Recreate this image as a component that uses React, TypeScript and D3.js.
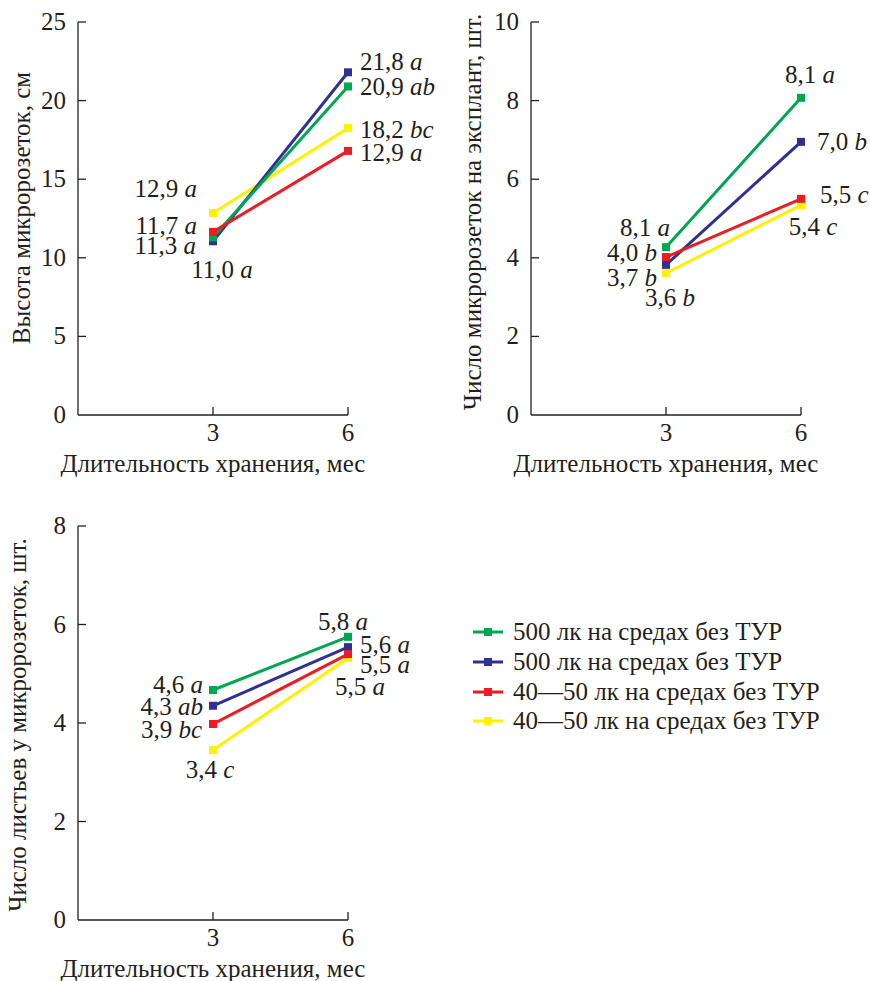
import React from "react";
import { scaleLinear, line as d3line } from "d3";

// ---------- DATA ----------
const months = [3, 6];
const seriesNames = [
  "500 лк на средах без ТУР",
  "500 лк на средах без ТУР",
  "40—50 лк на средах без ТУР",
  "40—50 лк на средах без ТУР",
];
const seriesColors = ["#00a651", "#2e3192", "#ed1c24", "#fff200"];

// Chart 1: height of micro-rosettes, cm  (green, blue, red, yellow)
const heightValues = [
  [11.3, 20.9],
  [11.05, 21.8],
  [11.65, 16.8],
  [12.85, 18.25],
];
const heightLabels = [
  ["11,3 a", "20,9 ab"],
  ["11,0 a", "21,8 a"],
  ["11,7 a", "12,9 a"],
  ["12,9 a", "18,2 bc"],
];
const heightTicks = [0, 5, 10, 15, 20, 25];

// Chart 2: number of micro-rosettes per explant
const countValues = [
  [4.27, 8.07],
  [3.82, 6.95],
  [4.02, 5.5],
  [3.61, 5.34],
];
const countLabels = [
  ["8,1 a", "8,1 a"],
  ["3,7 b", "7,0 b"],
  ["4,0 b", "5,5 c"],
  ["3,6 b", "5,4 c"],
];
const countTicks = [0, 2, 4, 6, 8, 10];

// Chart 3: number of leaves per micro-rosette
const leafValues = [
  [4.67, 5.75],
  [4.35, 5.54],
  [3.98, 5.4],
  [3.45, 5.32],
];
const leafLabels = [
  ["4,6 a", "5,8 a"],
  ["4,3 ab", "5,6 a"],
  ["3,9 bc", "5,5 a"],
  ["3,4 c", "5,5 a"],
];
const leafTicks = [0, 2, 4, 6, 8];

const xTickLabels = ["3", "6"];
const xTitle = "Длительность хранения, мес";

// ---------- LAYOUT ----------
type Off = { dx: number; dy: number; anchor: "start" | "middle" | "end" };
const heightOffsets: Off[][] = [
  [{ dx: -17, dy: 9, anchor: "end" }, { dx: 12, dy: 1, anchor: "start" }],
  [{ dx: 9, dy: 29, anchor: "middle" }, { dx: 12, dy: -10, anchor: "start" }],
  [{ dx: -16, dy: -6, anchor: "end" }, { dx: 12, dy: 2, anchor: "start" }],
  [{ dx: -16, dy: -24, anchor: "end" }, { dx: 12, dy: 2, anchor: "start" }],
];
const countOffsets: Off[][] = [
  [{ dx: 4, dy: -19, anchor: "end" }, { dx: 9, dy: -23, anchor: "middle" }],
  [{ dx: -9, dy: 13, anchor: "end" }, { dx: 16, dy: 0, anchor: "start" }],
  [{ dx: -9, dy: -4, anchor: "end" }, { dx: 19, dy: -4, anchor: "start" }],
  [{ dx: 4, dy: 25, anchor: "middle" }, { dx: 12, dy: 22, anchor: "middle" }],
];
const leafOffsets: Off[][] = [
  [{ dx: -10, dy: -5, anchor: "end" }, { dx: -5, dy: -15, anchor: "middle" }],
  [{ dx: -10, dy: 1, anchor: "end" }, { dx: 12, dy: -2, anchor: "start" }],
  [{ dx: -11, dy: 6, anchor: "end" }, { dx: 12, dy: 11, anchor: "start" }],
  [{ dx: -3, dy: 20, anchor: "middle" }, { dx: -13, dy: 29, anchor: "start" }],
];

const FONT = '"Liberation Serif", serif';
const FS = 25;
const drawOrder = [3, 1, 0, 2];
const textStyle = { fontFamily: FONT, fontSize: FS };

type PanelProps = {
  x0: number;
  x1: number;
  yTop: number;
  yBottom: number;
  yMax: number;
  ticks: number[];
  values: number[][];
  labels: string[][];
  offsets: Off[][];
  yTitle: string;
  yTitleX: number;
  yTitleY: number;
};

function T(props: any) {
  const { children, ...rest } = props;
  return (
    <text fontFamily="Liberation Serif" fontSize={FS} style={textStyle} fill="#231f20" {...rest}>
      {children}
    </text>
  );
}

function LabelText({ x, y, text, anchor }: { x: number; y: number; text: string; anchor: string }) {
  const i = text.lastIndexOf(" ");
  const num = text.slice(0, i);
  const letter = text.slice(i + 1);
  return (
    <T x={x} y={y + 8} textAnchor={anchor}>
      {num + " "}
      <tspan fontStyle="italic">{letter}</tspan>
    </T>
  );
}

function Panel(p: PanelProps) {
  const x = scaleLinear().domain([0, 6]).range([p.x0, p.x1]);
  const y = scaleLinear().domain([0, p.yMax]).range([p.yBottom, p.yTop]);
  const line = d3line<number>()
    .x((_, i) => x(months[i]))
    .y((d) => y(d));
  const ms = 8;
  return (
    <g>
      <line x1={p.x0} x2={p.x0} y1={y(0)} y2={y(p.yMax)} stroke="#231f20" strokeWidth={1.3} />
      <line x1={p.x0} x2={p.x1} y1={y(0)} y2={y(0)} stroke="#231f20" strokeWidth={1.3} />
      {p.ticks.map((t) => (
        <g key={t}>
          {t > 0 && <line x1={p.x0} x2={p.x0 + 8} y1={y(t)} y2={y(t)} stroke="#231f20" strokeWidth={1.3} />}
          <T x={p.x0 - 12} y={y(t) + 8} textAnchor="end">
            {String(t)}
          </T>
        </g>
      ))}
      {months.map((m, i) => (
        <g key={m}>
          <line x1={x(m)} x2={x(m)} y1={y(0)} y2={y(0) - 8} stroke="#231f20" strokeWidth={1.3} />
          <T x={x(m)} y={y(0) + 26} textAnchor="middle">
            {xTickLabels[i]}
          </T>
        </g>
      ))}
      <T x={(p.x0 + p.x1) / 2} y={y(0) + 57} textAnchor="middle">
        {xTitle}
      </T>
      <T transform={`translate(${p.yTitleX + 8},${p.yTitleY}) rotate(-90)`} textAnchor="middle">
        {p.yTitle}
      </T>
      {drawOrder.map((s) => (
        <g key={s}>
          <path d={line(p.values[s]) || ""} fill="none" stroke={seriesColors[s]} strokeWidth={3} />
          {p.values[s].map((v, i) => (
            <rect key={i} x={x(months[i]) - ms / 2} y={y(v) - ms / 2} width={ms} height={ms} fill={seriesColors[s]} />
          ))}
        </g>
      ))}
      {p.values.map((vals, s) =>
        vals.map((v, i) => (
          <LabelText
            key={`${s}-${i}`}
            x={x(months[i]) + p.offsets[s][i].dx}
            y={y(v) + p.offsets[s][i].dy}
            text={p.labels[s][i]}
            anchor={p.offsets[s][i].anchor}
          />
        ))
      )}
    </g>
  );
}

export default function App() {
  const legendY = [632, 662, 692, 721];
  return (
    <svg
      width={870}
      height={981}
      fontFamily="Liberation Serif"
      style={{ position: "absolute", left: 0, top: 0, background: "#fff", fontFamily: FONT }}
    >
      <style>{`text, tspan { font-family: "Liberation Serif", serif; }`}</style>
      <rect width={870} height={981} fill="#fff" />
      <Panel
        x0={78}
        x1={348}
        yTop={22}
        yBottom={415}
        yMax={25}
        ticks={heightTicks}
        values={heightValues}
        labels={heightLabels}
        offsets={heightOffsets}
        yTitle="Высота микророзеток, см"
        yTitleX={22}
        yTitleY={208}
      />
      <Panel
        x0={531}
        x1={801}
        yTop={22}
        yBottom={415}
        yMax={10}
        ticks={countTicks}
        values={countValues}
        labels={countLabels}
        offsets={countOffsets}
        yTitle="Число микророзеток на эксплант, шт."
        yTitleX={473}
        yTitleY={212}
      />
      <Panel
        x0={78}
        x1={348}
        yTop={526}
        yBottom={920}
        yMax={8}
        ticks={leafTicks}
        values={leafValues}
        labels={leafLabels}
        offsets={leafOffsets}
        yTitle="Число листьев у микророзеток, шт."
        yTitleX={18}
        yTitleY={725}
      />
      {seriesNames.map((n, i) => (
        <g key={i}>
          <line x1={473} x2={503} y1={legendY[i]} y2={legendY[i]} stroke={seriesColors[i]} strokeWidth={3} />
          <rect x={484} y={legendY[i] - 4} width={8} height={8} fill={seriesColors[i]} />
          <T x={513} y={legendY[i] + 8}>
            {n}
          </T>
        </g>
      ))}
    </svg>
  );
}
